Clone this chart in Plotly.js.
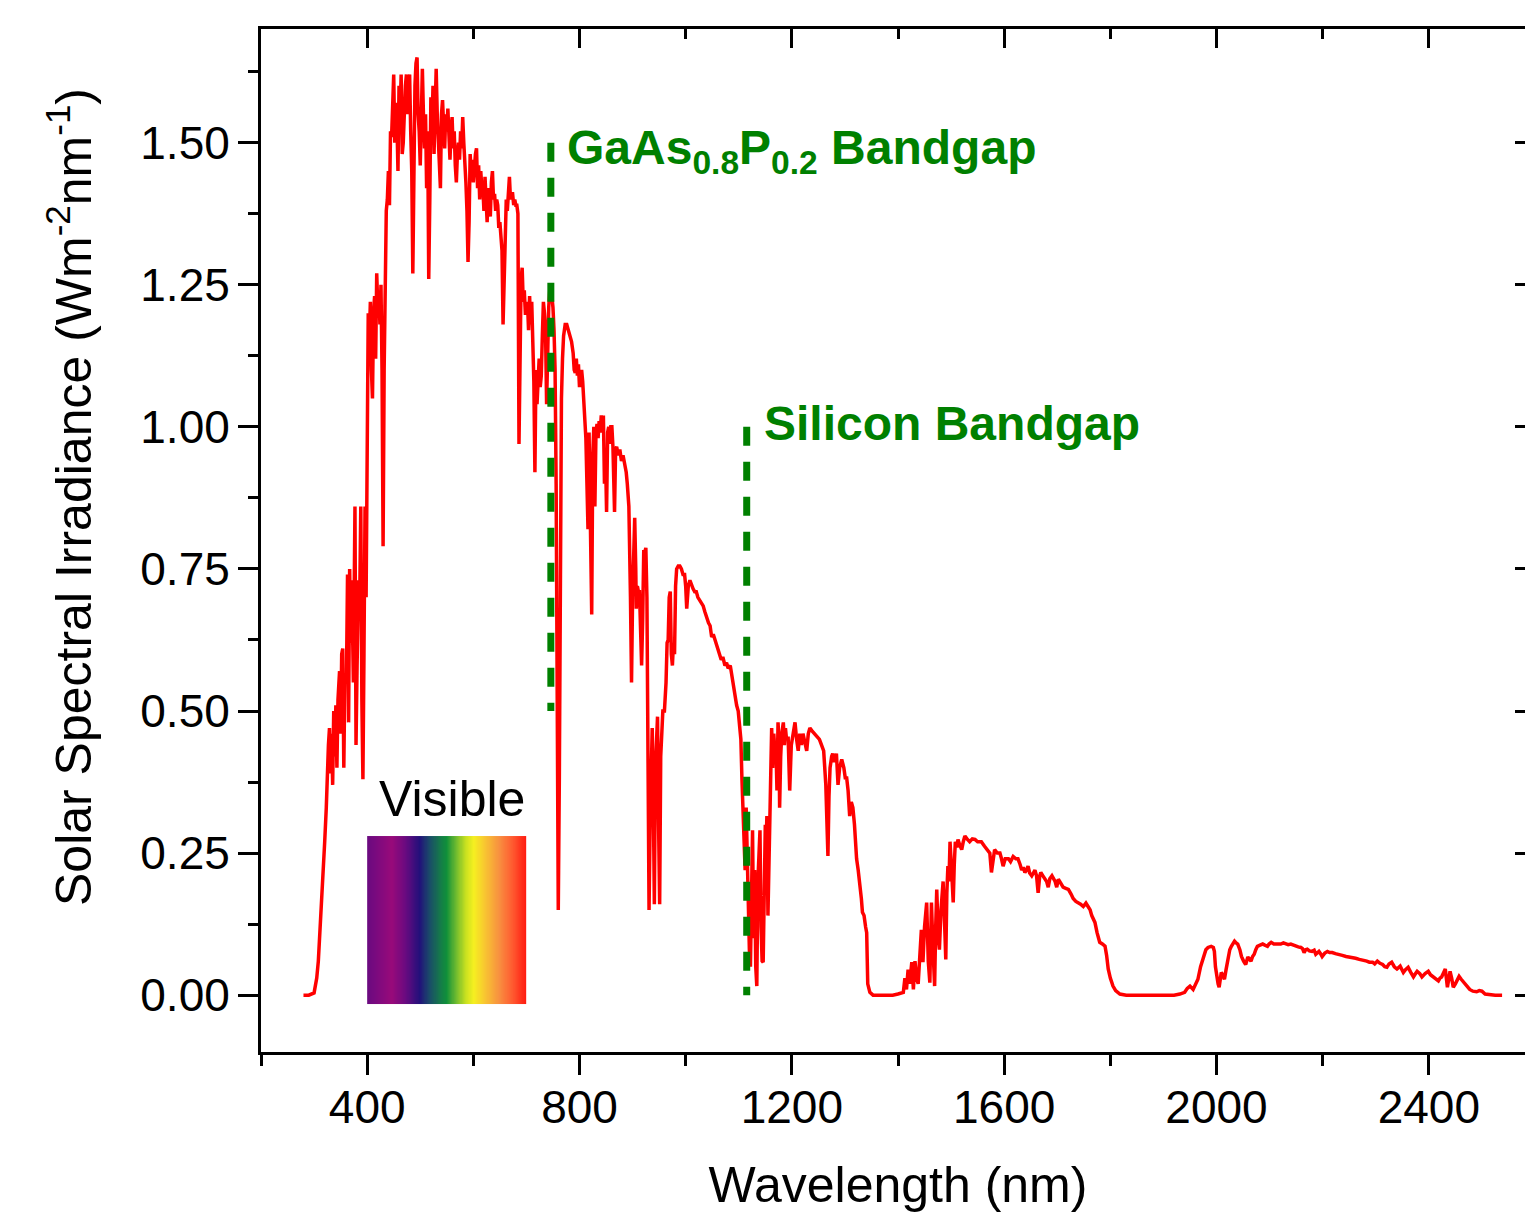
<!DOCTYPE html>
<html>
<head>
<meta charset="utf-8">
<script src="https://cdn.plot.ly/plotly-3.0.1.min.js"></script>
<style>
  html, body { margin: 0; padding: 0; overflow: hidden; background: #fff; }
  #chart { width: 1545px; height: 1221px; }
</style>
</head>
<body>
<div id="chart"></div>
<script>
// ---------------- DATA ----------------
// Solar spectral irradiance, W m^-2 nm^-1, split by wavelength band
const uvNm = [280,290,300,305,308, 311,314,317,320,323, 325,327,329,331,333, 335,337,339,341,343,
  345,348,350,352,354, 356,358,361,363,365, 367,369,371,374,377, 379,381,384,386,388, 390,392,394,396,398];
const uvVal = [0,0,0.004,0.03,0.06, 0.11,0.15,0.21,0.27,0.33, 0.40,0.44,0.47,0.39,0.46, 0.37,0.50,0.42,0.51,0.40,
  0.52,0.57,0.46,0.60,0.61, 0.40,0.56,0.56,0.74,0.48, 0.75,0.62,0.73,0.55,0.86, 0.44,0.58,0.73,0.70,0.86, 0.52,0.38,0.60,0.86,0.70];

const visNm = [
  400,402,404,406,408,410,412,414,416,418,
  420,422,424,426,428,430,432,434,436,438,
  440,442,444,446,448,450,452,454,456,458,
  460,462,464,466,468,470,472,474,476,478,
  480,482,484,486,488,490,492,494,496,498,
  500,502,504,506,508,510,512,514,516,518,
  520,522,524,526,528,530,532,534,536,538,
  540,542,544,546,548,550,552,554,556,558,
  560,562,564,566,568,570,572,574,576,578,
  580,582,584,586,588,590,592,594,596,598,
  600,602,604,606,608,610,612,614,616,618,
  620,622,624,626,628,630,632,634,636,638,
  640,642,644,646,648,650,652,654,656,658,
  660,662,664,666,668,670,672,674,676,678,
  680,682,684,686,688,690,692,694,696,698,
  700];
const visVal = [
  1.05,1.20,1.15,1.22,1.10,1.05,1.20,1.23,1.12,1.27,
  1.21,1.24,1.18,1.25,1.10,0.79,1.10,1.24,1.38,1.40,
  1.45,1.39,1.52,1.51,1.60,1.62,1.50,1.57,1.54,1.45,
  1.60,1.55,1.62,1.48,1.50,1.58,1.60,1.62,1.55,1.61,
  1.62,1.52,1.45,1.27,1.50,1.60,1.64,1.65,1.55,1.52,
  1.46,1.58,1.63,1.55,1.49,1.55,1.42,1.52,1.26,1.40,
  1.58,1.52,1.60,1.48,1.57,1.63,1.55,1.50,1.43,1.42,
  1.55,1.575,1.53,1.49,1.55,1.52,1.56,1.50,1.47,1.52,
  1.545,1.49,1.52,1.46,1.43,1.48,1.50,1.47,1.52,1.49,
  1.545,1.50,1.47,1.43,1.38,1.29,1.36,1.48,1.45,1.47,
  1.43,1.47,1.48,1.49,1.42,1.46,1.40,1.45,1.42,1.42,
  1.38,1.44,1.41,1.36,1.42,1.39,1.37,1.43,1.45,1.40,
  1.41,1.38,1.40,1.39,1.35,1.36,1.33,1.31,1.18,1.27,
  1.34,1.40,1.38,1.43,1.44,1.40,1.41,1.41,1.39,1.40,
  1.39,1.39,1.375,0.97,1.15,1.26,1.28,1.22,1.24,1.20,
  1.20];

const nirNm = [
  702,704,706,708,710,712,714,716,718,720,
  722,724,726,728,730,732,734,736,738,740,
  742,744,746,748,750,752,754,756,758,760,
  762,764,766,768,770,773,776,779,782,785,
  788,790,792,794,796,798,800,802,804,806,
  808,810,812,814,816,818,820,822,823,825,
  827,829,831,833,835,837,839,841,843,845,
  847,849,851,853,855,857,859,861,863,866,
  868,870,873,876,879,882,885,888,890,893,
  896,898,900,902,904,906,907,909,911,913,
  915,917,919,921,923,925,927,929,931,933,
  935,937,939,941,943,945,947,949,951,953,
  955,957,960,963,965,967,969,971,973,975,
  977,979,981,983,986,989,992,995,998,1000];
const nirVal = [
  1.22,1.17,1.23,1.18,1.22,1.15,1.08,0.92,1.10,1.04,
  1.08,1.12,1.07,1.09,1.16,1.22,1.20,1.17,1.04,1.15,
  1.21,1.24,1.25,1.23,1.21,1.17,1.10,0.90,0.45,0.15,
  0.38,0.85,1.05,1.12,1.16,1.18,1.18,1.17,1.16,1.15,
  1.13,1.10,1.095,1.12,1.09,1.11,1.07,1.09,1.10,1.08,
  1.04,1.00,0.98,0.90,0.82,0.99,0.88,0.70,0.67,0.95,
  1.00,0.86,0.99,1.005,0.98,1.01,0.99,1.02,1.00,1.02,
  0.90,0.95,0.85,0.99,1.00,0.97,1.00,1.00,0.965,0.85,
  0.96,0.965,0.95,0.96,0.94,0.95,0.937,0.92,0.90,0.86,
  0.70,0.55,0.70,0.80,0.84,0.75,0.68,0.72,0.71,0.71,
  0.65,0.58,0.66,0.78,0.78,0.787,0.70,0.43,0.15,0.30,
  0.40,0.47,0.35,0.16,0.40,0.46,0.49,0.30,0.16,0.42,
  0.48,0.50,0.50,0.55,0.62,0.625,0.70,0.71,0.60,0.58,
  0.62,0.60,0.72,0.75,0.755,0.755,0.75,0.74,0.74,0.72];

const swirNm = [
  1002,1005,1008,1011,1014,1017,1020,1023,1026,1030,
  1033,1036,1040,1043,1046,1049,1052,1055,1058,1061,
  1064,1067,1070,1074,1077,1080,1084,1087,1090,1093,
  1096,1099,1102,1104,1106,1108,1110,1112,1114,1116,
  1118,1120,1122,1124,1126,1128,1130,1132,1134,1136,
  1138,1140,1142,1144,1146,1148,1150,1152,1153,1155,
  1157,1159,1161,1162,1164,1166,1168,1170,1172,1174,
  1176,1177,1179,1181,1184,1186,1188,1190,1193,1196,
  1199,1202,1206,1209,1212,1215,1218,1221,1225,1228,
  1231,1234,1238,1243,1248,1252,1256,1260,1264,1266,
  1268,1270,1272,1275,1277,1280,1284,1287,1290,1294,
  1298,1301,1303,1306,1309,1312,1315,1318,1320,1322,
  1325,1328,1331,1333,1336,1339,1341,1343,1347,1353,
  1360,1370,1380,1390,1400];
const swirVal = [
  0.68,0.72,0.73,0.72,0.715,0.71,0.71,0.70,0.695,0.69,
  0.685,0.675,0.66,0.655,0.65,0.63,0.635,0.625,0.615,0.61,
  0.60,0.59,0.595,0.58,0.585,0.575,0.58,0.56,0.55,0.53,
  0.51,0.50,0.47,0.45,0.38,0.33,0.28,0.22,0.33,0.25,
  0.12,0.08,0.05,0.20,0.29,0.10,0.22,0.05,0.016,0.20,
  0.24,0.29,0.12,0.06,0.058,0.20,0.30,0.28,0.315,0.14,
  0.25,0.34,0.45,0.47,0.40,0.46,0.43,0.44,0.36,0.48,
  0.44,0.33,0.42,0.46,0.48,0.44,0.47,0.45,0.455,0.36,
  0.44,0.46,0.48,0.45,0.43,0.46,0.44,0.46,0.445,0.43,
  0.46,0.47,0.465,0.46,0.455,0.45,0.44,0.43,0.37,0.30,
  0.245,0.35,0.40,0.42,0.425,0.41,0.425,0.37,0.40,0.415,
  0.40,0.38,0.385,0.36,0.315,0.34,0.33,0.30,0.26,0.24,
  0.22,0.20,0.17,0.146,0.14,0.12,0.11,0.02,0.005,0,
  0,0,0,0,0.002];

const ir1Nm = [
  1405,1410,1413,1416,1419,1422,1426,1429,1432,1435,
  1438,1441,1444,1447,1450,1454,1457,1460,1463,1466,
  1469,1471,1473,1476,1478,1481,1485,1488,1490,1492,
  1494,1496,1498,1501,1504,1506,1508,1511,1513,1516,
  1520,1523,1526,1530,1535,1540,1545,1550,1557,1563,
  1568,1573,1576,1579,1582,1587,1592,1595,1598,1602,
  1608,1612,1617,1622,1626,1630,1633,1636,1639,1642,
  1645,1648,1652,1655,1658,1661,1664,1667,1669,1673,
  1677,1680,1683,1686,1690,1693,1696,1699,1702,1706,
  1711,1716,1721,1726,1730,1735,1739,1744,1749,1754,
  1758,1762,1765,1768,1771,1775,1780,1785,1790,1793,
  1796,1800,1805,1810,1818,1830,1850,1875,1900];
const ir1Val = [
  0.003,0.005,0.03,0.01,0.045,0.02,0.058,0.01,0.06,0.03,
  0.02,0.08,0.115,0.058,0.12,0.163,0.06,0.022,0.163,0.08,
  0.016,0.12,0.186,0.10,0.08,0.15,0.20,0.12,0.063,0.18,
  0.227,0.20,0.27,0.22,0.163,0.23,0.27,0.26,0.274,0.265,
  0.256,0.27,0.28,0.275,0.27,0.275,0.274,0.27,0.27,0.262,
  0.255,0.25,0.216,0.24,0.256,0.25,0.25,0.24,0.227,0.24,
  0.24,0.235,0.244,0.24,0.24,0.23,0.22,0.225,0.216,0.22,
  0.227,0.215,0.21,0.215,0.22,0.21,0.18,0.21,0.216,0.21,
  0.204,0.20,0.19,0.205,0.21,0.205,0.20,0.19,0.204,0.198,
  0.19,0.188,0.186,0.178,0.17,0.165,0.163,0.16,0.156,0.162,
  0.156,0.15,0.14,0.135,0.128,0.11,0.093,0.09,0.086,0.07,
  0.046,0.03,0.016,0.008,0.002,0,0,0,0];

const ir2Nm = [
  1920,1931,1940,1945,1950,1956,1960,1965,1970,1975,
  1980,1984,1990,1994,1996,1998,2000,2003,2005,2007,
  2009,2012,2015,2018,2022,2025,2028,2031,2034,2037,
  2040,2044,2047,2051,2055,2059,2062,2065,2068,2071,
  2074,2077,2082,2087,2091,2096,2099,2103,2108,2112,
  2117,2121,2126,2130,2135,2140,2145,2149,2154,2159,
  2162,2165,2168,2171,2175,2180,2184,2187,2190,2193,
  2196,2199,2204,2209,2213,2218,2224,2231,2237,2244,
  2250,2256,2262,2269,2276,2283,2288,2294,2298,2303,
  2308,2313,2317,2321,2325,2330,2335,2340,2346,2349,
  2352,2356,2361,2366,2371,2375,2378,2383,2387,2393,
  2399,2403,2408,2413,2418,2421,2424,2428,2431,2435,
  2438,2440,2443,2446,2450,2454,2457,2461,2465,2471,
  2477,2483,2490,2495,2500,2506,2515,2525,2538];
const ir2Val = [
  0,0.002,0.005,0.012,0.016,0.01,0.018,0.028,0.05,0.068,
  0.08,0.084,0.086,0.084,0.077,0.05,0.033,0.02,0.014,0.03,
  0.04,0.035,0.028,0.045,0.068,0.08,0.086,0.092,0.095,0.092,
  0.09,0.08,0.068,0.06,0.054,0.067,0.062,0.06,0.068,0.072,
  0.08,0.086,0.088,0.09,0.088,0.086,0.09,0.093,0.09,0.09,
  0.091,0.09,0.092,0.091,0.089,0.09,0.088,0.086,0.085,0.084,
  0.082,0.075,0.08,0.081,0.078,0.077,0.079,0.072,0.075,0.077,
  0.073,0.068,0.074,0.077,0.075,0.075,0.073,0.072,0.07,0.068,
  0.067,0.067,0.065,0.063,0.062,0.06,0.058,0.058,0.055,0.06,
  0.056,0.054,0.05,0.049,0.055,0.058,0.05,0.046,0.051,0.045,
  0.04,0.045,0.049,0.04,0.032,0.038,0.042,0.038,0.032,0.038,
  0.042,0.036,0.032,0.028,0.025,0.03,0.032,0.04,0.046,0.014,
  0.03,0.042,0.03,0.014,0.02,0.028,0.033,0.028,0.023,0.016,
  0.01,0.007,0.006,0.008,0.007,0.002,0.001,0,0];

// Bandgap markers (nm) and the vertical extent of their dashed lines (W m^-2 nm^-1)
const bandgapNames = ['GaAs<sub>0.8</sub>P<sub>0.2</sub> Bandgap', 'Silicon Bandgap'];
const bandgapNm = [746, 1115];
const bandgapTop = [1.5, 1.0];
const bandgapBottom = [0.5, 0.0];

// Visible band swatch: wavelength span, colour stops (fraction of span) and colours
const visibleSpan = [400, 700];
const visibleStops = [0, 0.07, 0.155, 0.24, 0.33, 0.39, 0.46, 0.50, 0.556, 0.62, 0.67, 0.736, 0.83, 0.915, 1];
const visibleColors = ['#6a0a80','#7e0a7e','#980a7a','#6a0a80','#22107a','#1a4a6a','#157a4a','#10903a',
  '#6ab830','#c8e020','#f5f020','#f8c830','#f89040','#ff5a30','#ff1a10'];
const visibleBoxY = [-0.015, 0.28];

// Axis ticks
const xTickStep = 400, xMinorStep = 200;
const yTickStep = 0.25, yMinorStep = 0.125;

// ---------------- BUILD ----------------
const wavelength = [].concat(uvNm, visNm, nirNm, swirNm, ir1Nm, ir2Nm);
const irradiance = [].concat(uvVal, visVal, nirVal, swirVal, ir1Val, ir2Val);

const FONT = 'Arial, "Liberation Sans", sans-serif';
const GREEN = '#008000';

// swatch columns (1 nm wide each) for the visible band
const swX = [], swZ = [];
for (let w = visibleSpan[0]; w <= visibleSpan[1]; w += 1) swX.push(w);
for (let i = 0; i < swX.length - 1; i++) swZ.push((swX[i] + swX[i + 1]) / 2);
const colorscale = visibleStops.map((s, i) => [s, visibleColors[i]]);

const traces = [
  {
    type: 'heatmap', x: swX, y: visibleBoxY, z: [swZ],
    zmin: visibleSpan[0], zmax: visibleSpan[1], colorscale: colorscale,
    showscale: false, hoverinfo: 'skip'
  },
  {
    type: 'scatter', mode: 'lines', x: wavelength, y: irradiance,
    line: { color: '#ff0000', width: 3.5 }, hoverinfo: 'x+y'
  }
];
// dashed bandgap markers live on the mirrored (top/right) axes, which share the same ranges
bandgapNm.forEach((nm, i) => {
  traces.push({
    type: 'scatter', mode: 'lines', x: [nm, nm], y: [bandgapTop[i], bandgapBottom[i]],
    xaxis: 'x2', yaxis: 'y2',
    line: { color: GREEN, width: 7, dash: '19px,16px' }, hoverinfo: 'skip'
  });
});

const tickStyle = { tickcolor: '#000', tickwidth: 3 };
const layout = {
  width: 1545, height: 1221,
  margin: { l: 261, r: 10, t: 29, b: 169 },
  paper_bgcolor: '#fff', plot_bgcolor: '#fff',
  showlegend: false,
  font: { family: FONT, color: '#000' },
  xaxis: Object.assign({
    range: [200, 2600], tick0: 0, dtick: xTickStep, ticks: 'outside', ticklen: 20,
    showline: true, linewidth: 3, linecolor: '#000', showgrid: false, zeroline: false,
    tickfont: { size: 46, family: FONT }, ticklabelstandoff: -7,
    minor: { dtick: xMinorStep, ticks: 'outside', ticklen: 11, tickwidth: 3, tickcolor: '#000', showgrid: false },
    title: { text: 'Wavelength (nm)', font: { size: 50, family: FONT }, standoff: 35 }
  }, tickStyle),
  xaxis2: Object.assign({
    overlaying: 'x', side: 'top', anchor: 'y2', range: [200, 2600], tick0: 0, dtick: xTickStep,
    ticks: 'inside', ticklen: 19, showline: true, linewidth: 3, linecolor: '#000',
    showgrid: false, zeroline: false, showticklabels: false,
    minor: { dtick: xMinorStep, ticks: 'inside', ticklen: 10, tickwidth: 3, tickcolor: '#000', showgrid: false }
  }, tickStyle),
  yaxis: Object.assign({
    range: [-0.1, 1.7], tick0: 0, dtick: yTickStep, tickformat: '.2f', ticks: 'outside', ticklen: 20,
    showline: true, linewidth: 3, linecolor: '#000', showgrid: false, zeroline: false,
    tickfont: { size: 46, family: FONT }, ticklabelstandoff: -1,
    minor: { dtick: yMinorStep, ticks: 'outside', ticklen: 10, tickwidth: 3, tickcolor: '#000', showgrid: false }
  }, tickStyle),
  yaxis2: Object.assign({
    overlaying: 'y', side: 'right', anchor: 'x2', range: [-0.1, 1.7], tick0: 0, dtick: yTickStep,
    ticks: 'inside', ticklen: 20, showline: true, linewidth: 3, linecolor: '#000',
    showgrid: false, zeroline: false, showticklabels: false
  }, tickStyle),
  annotations: [
    {
      text: 'Solar Spectral Irradiance (Wm<sup>-2</sup>nm<sup>-1</sup>)', textangle: -90,
      xref: 'paper', yref: 'paper', x: 0, y: 0.5425, xshift: -191,
      xanchor: 'center', yanchor: 'middle', showarrow: false,
      font: { size: 50, family: FONT, color: '#000' }
    },
    {
      text: 'Visible', xref: 'x', yref: 'y', x: 560, y: 0.345,
      xanchor: 'center', yanchor: 'middle', showarrow: false,
      font: { size: 50, family: FONT, color: '#000' }
    },
    {
      text: '<b>' + bandgapNames[0] + '</b>', xref: 'x', yref: 'y', x: 772, y: 1.486,
      xanchor: 'left', yanchor: 'middle', showarrow: false,
      font: { size: 48, family: FONT, color: GREEN }
    },
    {
      text: '<b>' + bandgapNames[1] + '</b>', xref: 'x', yref: 'y', x: 1143, y: 1.006,
      xanchor: 'left', yanchor: 'middle', showarrow: false,
      font: { size: 48, family: FONT, color: GREEN }
    }
  ]
};

Plotly.newPlot('chart', traces, layout, { staticPlot: true, displayModeBar: false });
</script>
</body>
</html>
